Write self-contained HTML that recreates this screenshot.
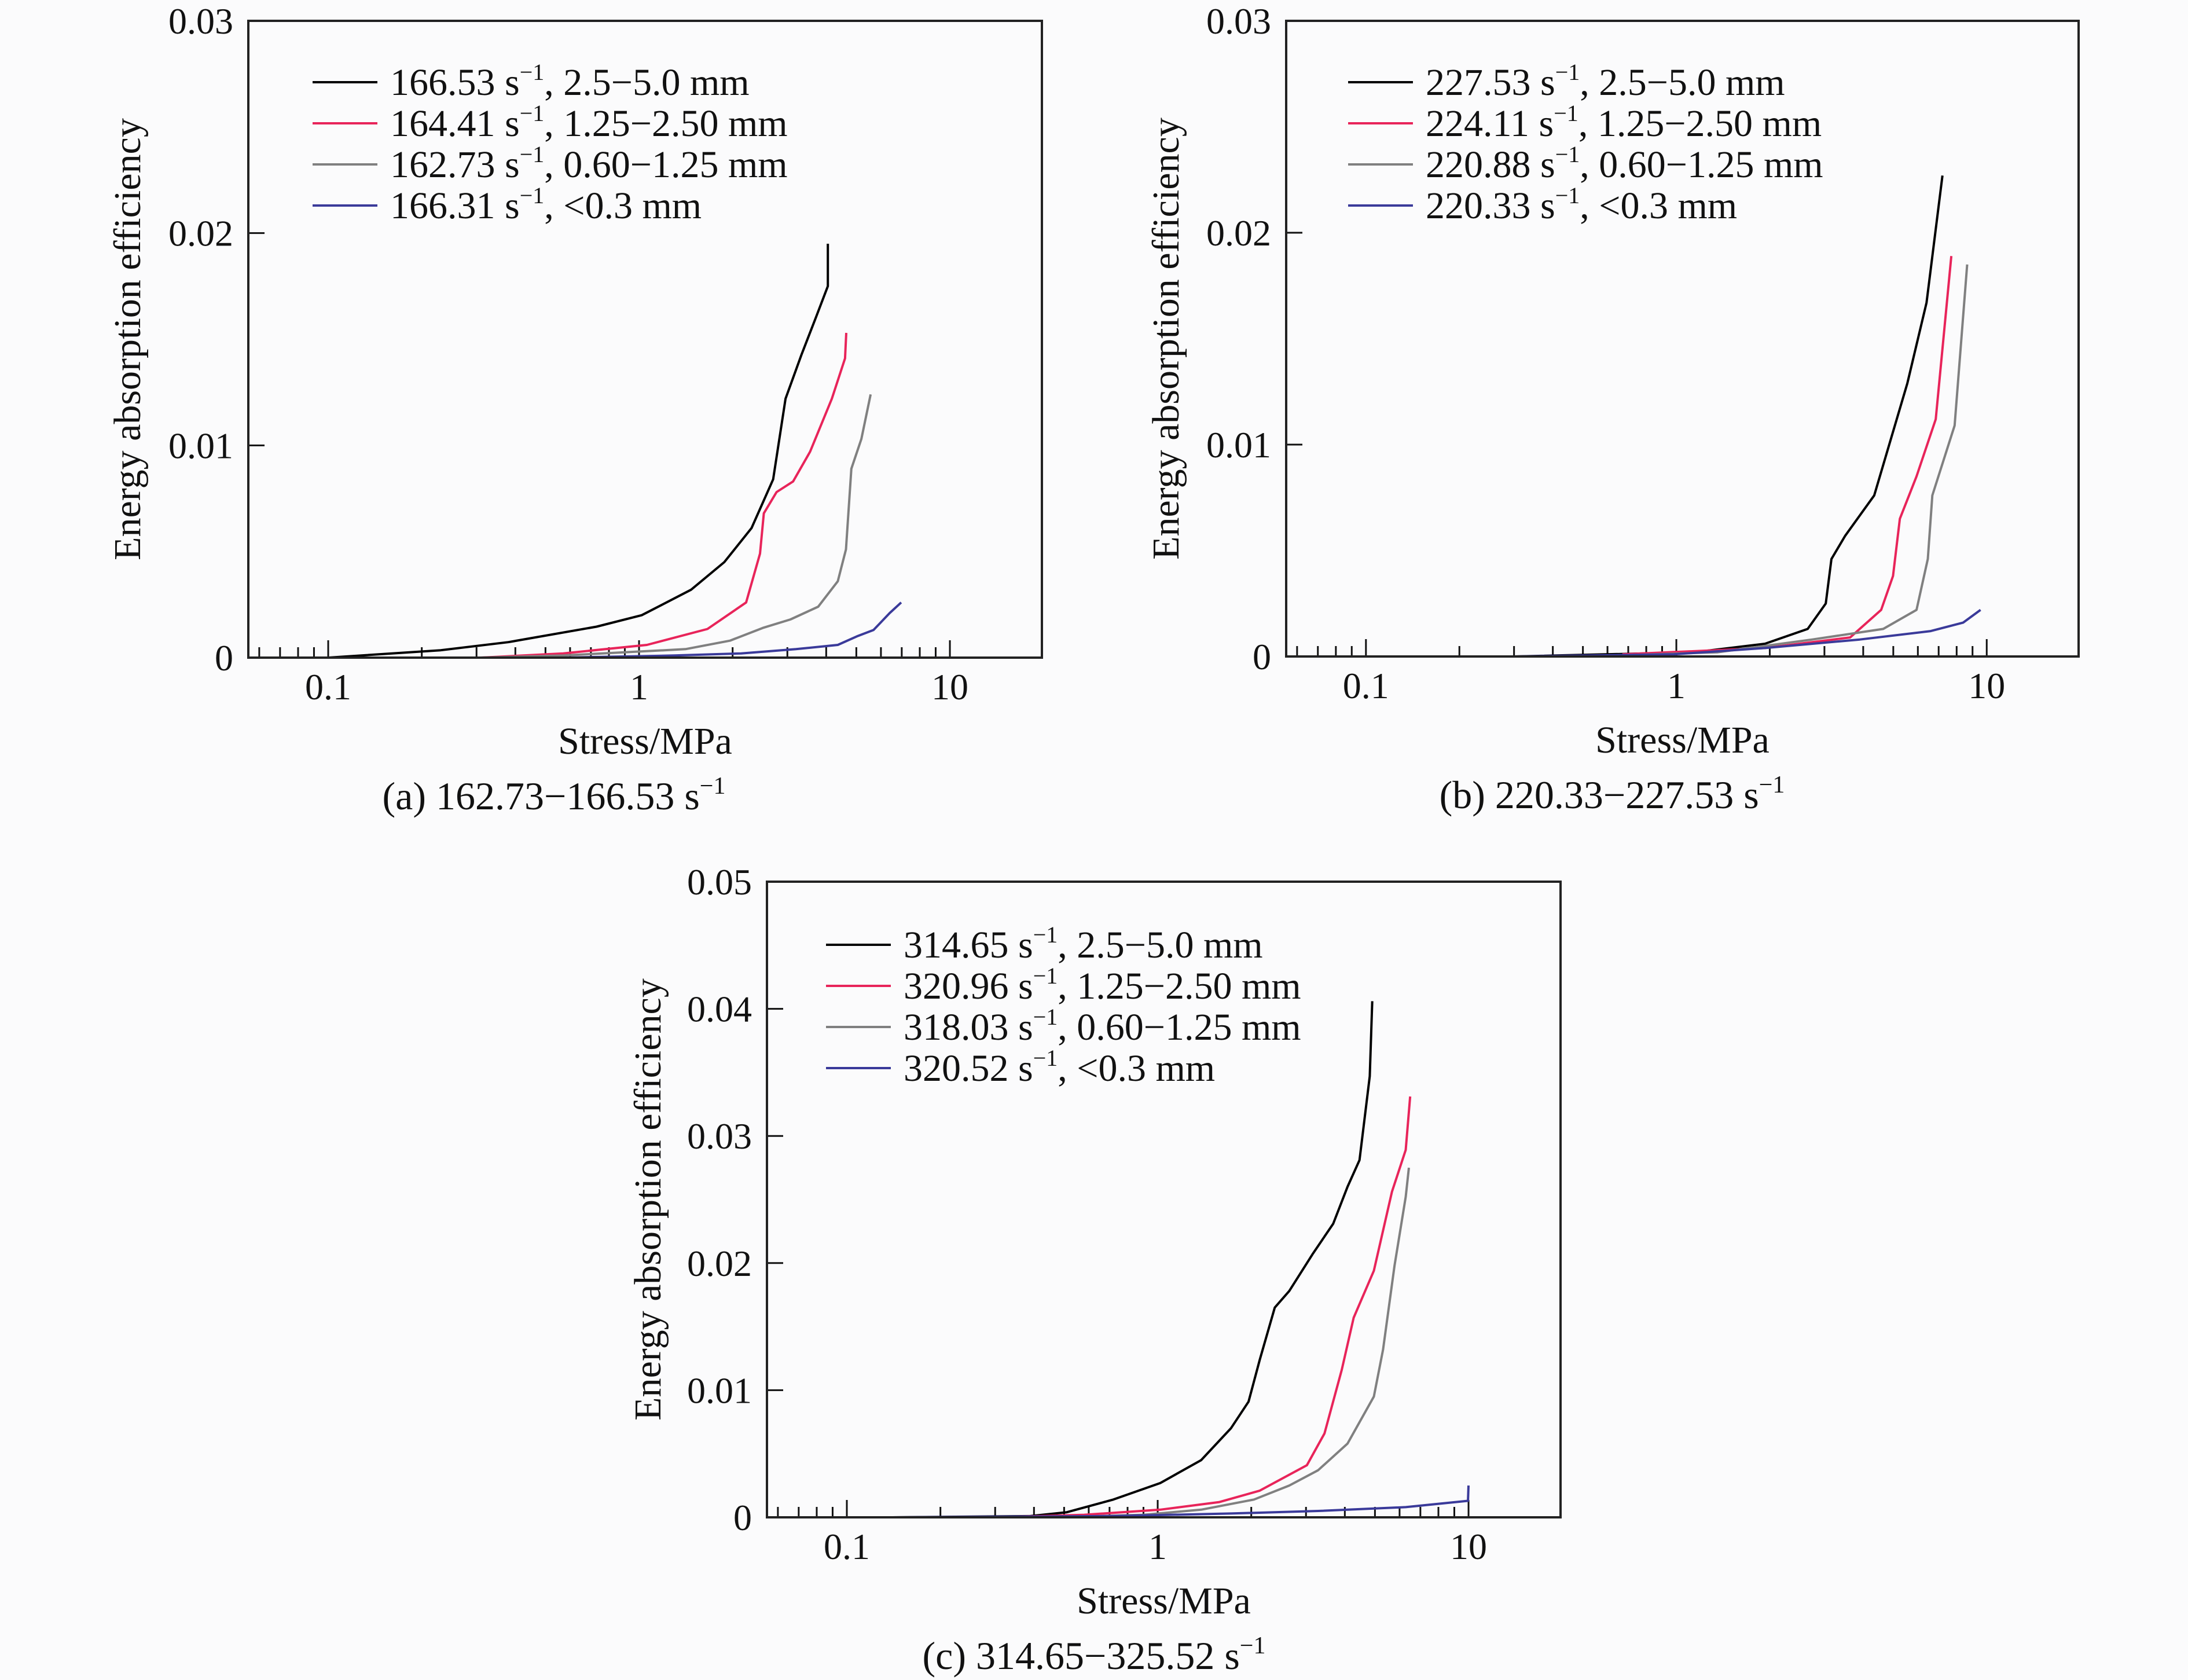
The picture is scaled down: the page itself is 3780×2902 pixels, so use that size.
<!DOCTYPE html>
<html><head><meta charset="utf-8"><style>
html,body{margin:0;padding:0;background:#fbfbfc;}
svg{display:block;font-family:"Liberation Serif",serif;}
</style></head><body>
<svg id="fig" width="3780" height="2902" viewBox="0 0 3780 2902" xmlns="http://www.w3.org/2000/svg">
<rect x="0" y="0" width="3780" height="2902" fill="#fbfbfc"/>
</svg>
<script>
// ---- data ----
const colors = ["#000000", "#e8245a", "#808080", "#3a3a9a"];
const aLabels = ["166.53", "164.41", "162.73", "166.31"];
const bLabels = ["227.53", "224.11", "220.88", "220.33"];
const cLabels = ["314.65", "320.96", "318.03", "320.52"];
const sizeLabels = ["2.5\u22125.0 mm", "1.25\u22122.50 mm", "0.60\u22121.25 mm", "<0.3 mm"];
const xTickValues = [0.1, 1, 10];
const xTickLabels = ["0.1", "1", "10"];
const yTicksAB = [0, 0.01, 0.02, 0.03];
const yTickLabelsAB = ["0", "0.01", "0.02", "0.03"];
const yTicksC = [0, 0.01, 0.02, 0.03, 0.04, 0.05];
const yTickLabelsC = ["0", "0.01", "0.02", "0.03", "0.04", "0.05"];

// panel a
const aBlackX = [0.1,0.23,0.38,0.73,1.02,1.47,1.88,2.30,2.70,2.96,3.33,3.7,4.05,4.05];
const aBlackY = [0,0.00035,0.00073,0.00146,0.0020,0.0032,0.0045,0.0061,0.0084,0.0122,0.01427,0.0160,0.0175,0.0195];
const aRedX = [0.31,0.57,1.06,1.66,2.21,2.45,2.52,2.77,3.13,3.55,4.17,4.6,4.64];
const aRedY = [0,0.0002,0.0006,0.00135,0.0026,0.0049,0.0068,0.0078,0.0083,0.0097,0.0122,0.0141,0.0153];
const aGrayX = [0.31,0.57,1.41,1.96,2.50,3.07,3.77,4.36,4.63,4.82,5.19,5.56];
const aGrayY = [0,0.0001,0.0004,0.0008,0.0014,0.0018,0.0024,0.0036,0.0051,0.0089,0.0103,0.0124];
const aBlueX = [0.57,1.3,2.13,3.2,4.36,5.02,5.68,6.4,6.97];
const aBlueY = [0,0.0001,0.0002,0.0004,0.0006,0.0010,0.0013,0.0021,0.0026];
// panel b
const bBlackX = [0.3,1.14,1.93,2.65,3.03,3.16,3.5,4.34,5.55,6.4,7.2];
const bBlackY = [0,0.0002,0.0006,0.0013,0.0025,0.0046,0.0057,0.0076,0.0129,0.0167,0.0227];
const bRedX = [0.67,1.93,3.63,4.57,4.99,5.25,5.94,6.85,7.69];
const bRedY = [0.0001,0.0004,0.0009,0.0022,0.0038,0.0065,0.0085,0.0112,0.0189];
const bGrayX = [0.5,1.36,2.74,4.64,5.94,6.46,6.68,7.88,8.65];
const bGrayY = [0,0.0002,0.0008,0.0013,0.0022,0.0046,0.0076,0.0109,0.0185];
const bBlueX = [0.3,0.98,1.93,3.9,6.6,8.4,9.55];
const bBlueY = [0,0.0001,0.0004,0.0008,0.0012,0.0016,0.0022];
// panel c
const cBlackX = [0.14,0.39,0.51,0.72,1.02,1.38,1.72,1.96,2.13,2.38,2.65,3.15,3.67,4.08,4.46,4.81,4.9];
const cBlackY = [0,0.0001,0.0004,0.0014,0.0027,0.0045,0.0070,0.0091,0.0124,0.0165,0.0178,0.0207,0.0231,0.0260,0.0281,0.0347,0.0406];
const cRedX = [0.3,0.58,1.02,1.58,2.13,3.02,3.44,3.91,4.27,4.96,5.67,6.28,6.49];
const cRedY = [0,0.0002,0.0006,0.0012,0.0021,0.0041,0.0066,0.0116,0.0157,0.0194,0.0256,0.0289,0.0331];
const cGrayX = [0.47,0.9,1.38,2.04,2.65,3.28,4.08,4.96,5.31,5.78,6.28,6.43];
const cGrayY = [0,0.0002,0.0006,0.0014,0.0025,0.0037,0.0058,0.0095,0.0132,0.0198,0.0252,0.0275];
const cBlueX = [0.14,0.72,1.72,3.28,6.28,9.96,10.0];
const cBlueY = [0,0.0001,0.0003,0.0005,0.0008,0.0013,0.0025];

const NS = "http://www.w3.org/2000/svg";
const svg = document.getElementById("fig");
function mk(tag, attrs, parent) {
  const e = document.createElementNS(NS, tag);
  for (const k in attrs) e.setAttribute(k, attrs[k]);
  (parent || svg).appendChild(e);
  return e;
}
const LMIN = -1.257, LMAX = 1.296;

function panel(p) {
  const g = mk("g", {});
  
  
  const W = p.r - p.l, H = p.b - p.t;
  const xs = v => p.l + (Math.log10(v) - LMIN) / (LMAX - LMIN) * W;
  const ys = v => p.b - v / p.ymax * H;
  for (let d = -2; d <= 1; d++) {
    for (let m = 1; m <= 9; m++) {
      const v = m * Math.pow(10, d);
      const lv = Math.log10(v);
      if (lv < LMIN || lv > LMAX) continue;
      const x = xs(v);
      const t = mk("line", {x1: x, x2: x, y1: p.b, y2: p.b - (m === 1 ? 30 : 18), stroke: "#111", "stroke-width": 3}, g);
      
      
    }
  }
  xTickValues.forEach((v, i) => {
    const t = mk("text", {x: xs(v), y: p.b + 72, "font-size": 64, "text-anchor": "middle", fill: "#111"}, g);
    t.textContent = xTickLabels[i];
    
    
  });
  p.yt.forEach((v, i) => {
    const y = ys(v);
    const t = mk("line", {x1: p.l, x2: p.l + 28, y1: y, y2: y, stroke: "#111", "stroke-width": 3}, g);
    
    
    const tl = mk("text", {x: p.l - 26, y: y + 22, "font-size": 64, "text-anchor": "end", fill: "#111"}, g);
    tl.textContent = p.ytl[i];
    
    
  });
  p.series.forEach((s, i) => {
    const d = s[0].map((xv, j) => (j ? "L" : "M") + xs(xv).toFixed(1) + " " + ys(s[1][j]).toFixed(1)).join(" ");
    const path = mk("path", {d: d, fill: "none", stroke: colors[i], "stroke-width": 4, "stroke-linejoin": "round"}, g);
    
    
  });
  const fr = mk("rect", {x: p.l, y: p.t, width: W, height: H, fill: "none", stroke: "#222", "stroke-width": 4}, g);
  
  
  p.labels.forEach((lab, i) => {
    const y = p.legY + i * 71;
    const ln = mk("line", {x1: p.legX, x2: p.legX + 112, y1: y, y2: y, stroke: colors[i], "stroke-width": 4}, g);
    
    
    const t = mk("text", {x: p.legX + 134, y: y + 22, "font-size": 66, fill: "#111"}, g);
    
    
    const a = mk("tspan", {}, t); a.textContent = lab + " s";
    const sup = mk("tspan", {"font-size": 40, dy: -26}, t); sup.textContent = "\u22121";
    const b = mk("tspan", {dy: 26}, t); b.textContent = ", " + sizeLabels[i];
  });
  const yt = mk("text", {x: 0, y: 0, "font-size": 66, "text-anchor": "middle", fill: "#111",
    transform: "translate(" + p.ytx + "," + ((p.t + p.b) / 2) + ") rotate(-90)"}, g);
  yt.textContent = "Energy absorption efficiency";
  
  
  const xt = mk("text", {x: (p.l + p.r) / 2, y: p.b + 166, "font-size": 66, "text-anchor": "middle", fill: "#111"}, g);
  xt.textContent = "Stress/MPa";
  
  
  const cap = mk("text", {x: p.capX, y: p.b + 262, "font-size": 68, "text-anchor": "middle", fill: "#111"}, g);
  
  
  const c1 = mk("tspan", {}, cap); c1.textContent = p.cap + " s";
  const c2 = mk("tspan", {"font-size": 42, dy: -27}, cap); c2.textContent = "\u22121";
}

panel({name: "panel-a", l: 429, r: 1800, t: 36, b: 1136, ymax: 0.03, yt: yTicksAB, ytl: yTickLabelsAB,
  series: [[aBlackX, aBlackY], [aRedX, aRedY], [aGrayX, aGrayY], [aBlueX, aBlueY]],
  labels: aLabels, legX: 540, legY: 142, ytx: 242, capX: 957, cap: "(a) 162.73\u2212166.53"});
panel({name: "panel-b", l: 2222, r: 3591, t: 36, b: 1134, ymax: 0.03, yt: yTicksAB, ytl: yTickLabelsAB,
  series: [[bBlackX, bBlackY], [bRedX, bRedY], [bGrayX, bGrayY], [bBlueX, bBlueY]],
  labels: bLabels, legX: 2329, legY: 142, ytx: 2036, capX: 2785, cap: "(b) 220.33\u2212227.53"});
panel({name: "panel-c", l: 1325, r: 2696, t: 1523, b: 2621, ymax: 0.05, yt: yTicksC, ytl: yTickLabelsC,
  series: [[cBlackX, cBlackY], [cRedX, cRedY], [cGrayX, cGrayY], [cBlueX, cBlueY]],
  labels: cLabels, legX: 1427, legY: 1632, ytx: 1141, capX: 1890, cap: "(c) 314.65\u2212325.52"});
</script>
</body></html>
